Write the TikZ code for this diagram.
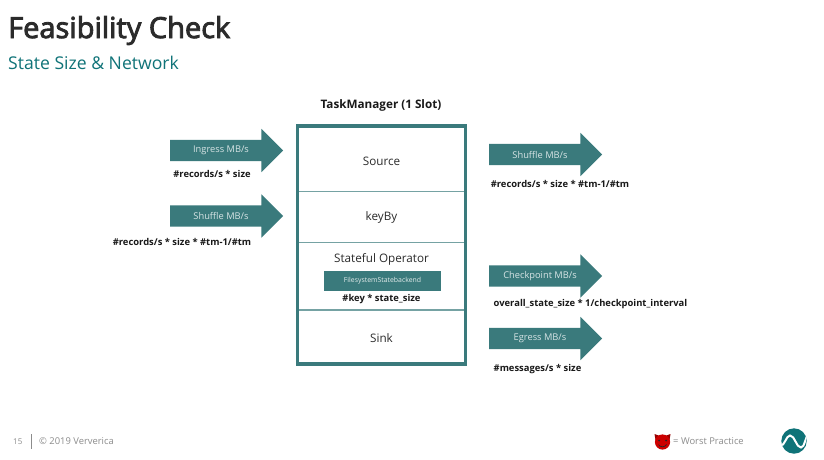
\documentclass[tikz,border=0pt]{standalone}
\usepackage{fontspec}
\setmainfont{Open Sans}
\newfontfamily\semib[FakeBold=3]{Open Sans}
\usetikzlibrary{shapes.arrows}
\definecolor{teal1}{HTML}{3A7A7C}
\definecolor{teal2}{HTML}{0F7378}
\definecolor{dark}{HTML}{2B2B2B}
\definecolor{greyt}{HTML}{8C8C8C}
\tikzset{
  fatarrow/.style={single arrow,fill=teal1,draw=none,minimum height=113pt,minimum width=43pt,
    single arrow head extend=11pt,single arrow head indent=0pt,single arrow tip angle=90,
    inner sep=0pt,outer sep=0pt,anchor=west},
  formula/.style={font=\bfseries\fontsize{9.4}{11}\selectfont,text=black!90,inner sep=0pt},
  arrowlabel/.style={text=white!80!teal1,font=\fontsize{9.3}{11}\selectfont,inner sep=0pt},
  slotlabel/.style={text=dark,font=\fontsize{11.7}{14}\selectfont,inner sep=0pt},
  footer/.style={text=greyt,font=\fontsize{9.4}{11}\selectfont,inner sep=0pt,anchor=west},
  divider/.style={draw=teal1!70,line width=1.6pt},
}
\newcommand{\shaft}{\rule{0pt}{21pt}}
\begin{document}
\begin{tikzpicture}[x=1pt,y=-1pt]
\useasboundingbox[fill=white] (0,0) rectangle (824,460);
% headings
\node[anchor=west,inner sep=0pt,text=dark,font=\semib\fontsize{29}{34}\selectfont] (title) at (8,30.5) {Feasibility Check};
\node[anchor=west,inner sep=0pt,text=teal2,font=\fontsize{17.6}{20}\selectfont] (subtitle) at (8,62.5) {State Size \& Network};
% task manager
\node[font=\bfseries\fontsize{11.7}{14}\selectfont,text=black!90,inner sep=0pt] (tmtitle) at (381,105.5) {TaskManager (1 Slot)};
\draw[divider] (297,191.5) -- (466,191.5);
\draw[divider] (297,242.5) -- (466,242.5);
\draw[divider] (297,310) -- (466,310);
\node[draw=teal1,line width=3.4pt,minimum width=168pt,minimum height=238pt,inner sep=0pt] (tm) at (381.5,245) {};
\node[slotlabel] (source) at (381.5,161.5) {Source};
\node[slotlabel] (keyby) at (381.5,217.5) {keyBy};
\node[slotlabel] (stateful) at (381.5,259.5) {Stateful Operator};
\node[fill=teal1,minimum width=117pt,minimum height=20pt,inner sep=0pt,text=white!85!teal1,font=\fontsize{6.9}{9}\selectfont] (backend) at (382.5,280.5) {FilesystemStatebackend};
\node[formula] (keyf) at (381.5,299.5) {\#key * state\_size};
\node[slotlabel] (sink) at (381.5,338.5) {Sink};
% arrows
\node[fatarrow] (a1) at (170,150.5) {\shaft};
\node[arrowlabel] at (221,150.5) {Ingress MB/s};
\node[formula] (f1) at (212,174) {\#records/s * size};
\node[fatarrow] (a2) at (170,216) {\shaft};
\node[arrowlabel] at (221,216) {Shuffle MB/s};
\node[formula] (f2) at (182,241.5) {\#records/s * size * \#tm-1/\#tm};
\node[fatarrow] (a3) at (489,154.5) {\shaft};
\node[arrowlabel] at (540,154.5) {Shuffle MB/s};
\node[formula] (f3) at (560,183.5) {\#records/s * size * \#tm-1/\#tm};
\node[fatarrow] (a4) at (489,276) {\shaft};
\node[arrowlabel] at (540,276) {Checkpoint MB/s};
\node[formula] (f4) at (590.5,304) {overall\_state\_size * 1/checkpoint\_interval};
\node[fatarrow] (a5) at (489,338.5) {\shaft};
\node[arrowlabel] at (540,338.5) {Egress MB/s};
\node[formula] (f5) at (537.5,369) {\#messages/s * size};
% footer
\node[footer,font=\fontsize{8}{9}\selectfont] (page) at (13,441.5) {15};
\draw[greyt,line width=1.2pt] (31.5,434) -- (31.5,449);
\node[footer] (copy) at (39,441.5) {© 2019 Ververica};
% devil
\fill[red!60!black] (654.5,434) -- (655.5,440) -- (660,436) -- cycle;
\fill[red!60!black] (670.5,434) -- (669.5,440) -- (665,436) -- cycle;
\fill[red!80!black] (662.5,442) circle (7.6pt);
\fill[black!85] (659,440.5) circle (1pt) (666,440.5) circle (1pt);
\draw[black!85,line width=.7pt] (658.5,444.5) .. controls (660,447.5) and (665,447.5) .. (666.5,444.5);
\node[footer] (worst) at (673,441.5) {= Worst Practice};
% logo
\fill[teal2] (794,441) circle (12.7pt);
\begin{scope}
\clip (794,441) circle (12.7pt);
\draw[white,line width=2pt] (780,446) .. controls (785,446) and (786,435.5) .. (790,435.5) .. controls (795,435.5) and (796,447.5) .. (801,447.5) .. controls (805,447.5) and (805,436) .. (809,434);
\end{scope}
\end{tikzpicture}
\end{document}
